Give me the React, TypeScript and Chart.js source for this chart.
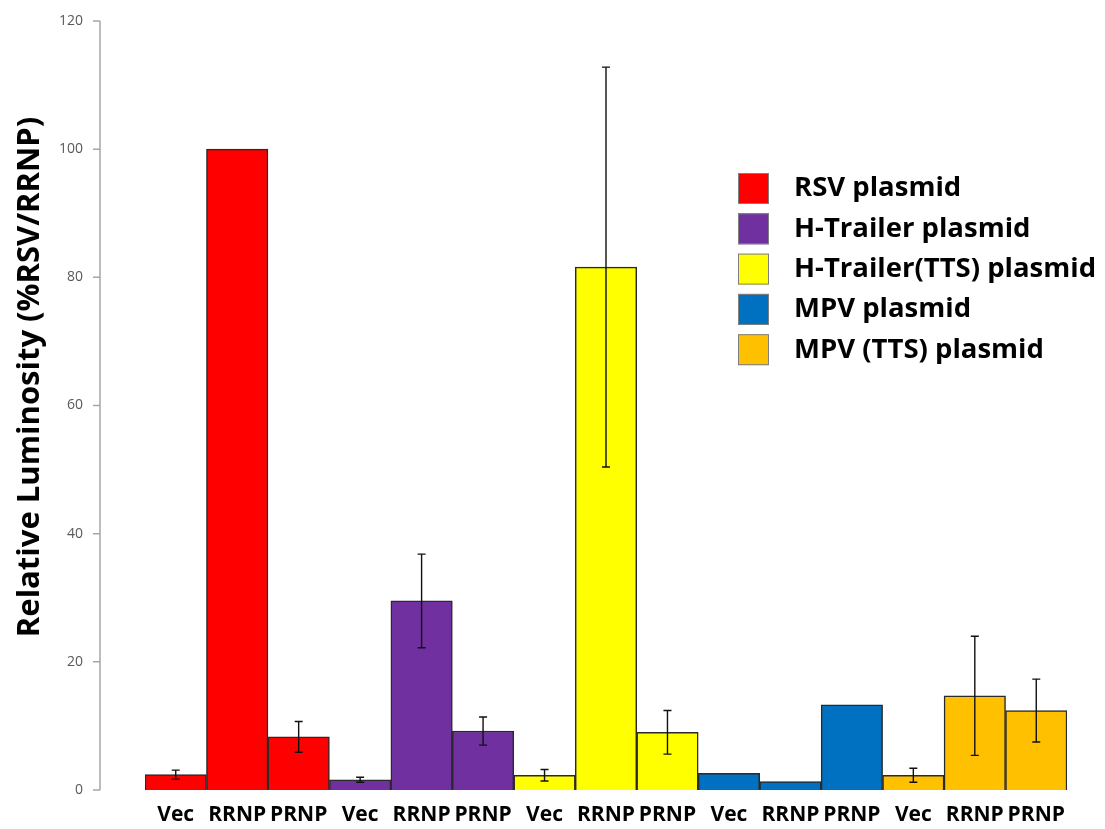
import React, { useEffect, useRef } from "react";
import { Chart, registerables } from "chart.js";

Chart.register(...registerables);

// ---- data ----
const categories = [
  "Vec", "RRNP", "PRNP",
  "Vec", "RRNP", "PRNP",
  "Vec", "RRNP", "PRNP",
  "Vec", "RRNP", "PRNP",
  "Vec", "RRNP", "PRNP",
];
const seriesNames = [
  "RSV plasmid",
  "H-Trailer plasmid",
  "H-Trailer(TTS) plasmid",
  "MPV plasmid",
  "MPV (TTS) plasmid",
];
const seriesColors = ["#FF0000", "#7030A0", "#FFFF00", "#0070C0", "#FFC000"];

const rsvValues = [2.4, 100, 8.3];
const rsvErrors = [0.7, null, 2.4];
const hTrailerValues = [1.6, 29.5, 9.2];
const hTrailerErrors = [0.4, 7.3, 2.2];
const hTrailerTtsValues = [2.3, 81.6, 9.0];
const hTrailerTtsErrors = [0.9, 31.2, 3.4];
const mpvValues = [2.6, 1.3, 13.3];
const mpvErrors = [null, null, null];
const mpvTtsValues = [2.3, 14.7, 12.4];
const mpvTtsErrors = [1.1, 9.3, 4.9];

const yTicks = [0, 20, 40, 60, 80, 100, 120];
const yTitle = "Relative Luminosity (%RSV/RRNP)";

const allValues = [rsvValues, hTrailerValues, hTrailerTtsValues, mpvValues, mpvTtsValues];
const allErrors = [rsvErrors, hTrailerErrors, hTrailerTtsErrors, mpvErrors, mpvTtsErrors];

const BOLD_FONT = "'Open Sans', 'DejaVu Sans', sans-serif";

const overlayPlugin = {
  id: "overlay",
  afterDatasetsDraw(chart: any) {
    const ctx = chart.ctx;
    const yScale = chart.scales.y;
    ctx.save();
    ctx.strokeStyle = "#111111";
    ctx.lineWidth = 1.4;
    chart.data.datasets.forEach((ds: any, di: number) => {
      const meta = chart.getDatasetMeta(di);
      const errs = ds.errors as (number | null)[];
      meta.data.forEach((el: any, i: number) => {
        const v = ds.data[i];
        const e = errs[i];
        if (v == null || e == null) return;
        const x = el.x;
        const yTop = yScale.getPixelForValue(v + e);
        const yBot = yScale.getPixelForValue(v - e);
        const cap = 4;
        ctx.beginPath();
        ctx.moveTo(x, yTop);
        ctx.lineTo(x, yBot);
        ctx.moveTo(x - cap, yTop);
        ctx.lineTo(x + cap, yTop);
        ctx.moveTo(x - cap, yBot);
        ctx.lineTo(x + cap, yBot);
        ctx.stroke();
      });
    });
    ctx.restore();
  },
  afterDraw(chart: any) {
    const ctx = chart.ctx;
    const yScale = chart.scales.y;
    const axisX = 100;
    ctx.save();
    // y axis line and ticks
    ctx.strokeStyle = "#A6A6A6";
    ctx.lineWidth = 1.5;
    ctx.beginPath();
    ctx.moveTo(axisX, yScale.getPixelForValue(yTicks[yTicks.length - 1]));
    ctx.lineTo(axisX, yScale.getPixelForValue(yTicks[0]));
    yTicks.forEach((t) => {
      const py = yScale.getPixelForValue(t);
      ctx.moveTo(axisX - 7, py);
      ctx.lineTo(axisX, py);
    });
    ctx.stroke();

    // y title
    ctx.save();
    ctx.translate(30, 377);
    ctx.rotate(-Math.PI / 2);
    ctx.fillStyle = "#000000";
    ctx.font = `bold 31px ${BOLD_FONT}`;
    ctx.textAlign = "center";
    ctx.textBaseline = "middle";
    ctx.fillText(yTitle, 0, 0);
    ctx.restore();

    // legend
    const boxX = 738;
    const boxSize = 31;
    const textX = 794;
    const firstY = 188.5;
    const rowH = 40.3;
    chart.data.datasets.forEach((ds: any, i: number) => {
      const cy = firstY + i * rowH;
      ctx.fillStyle = ds.backgroundColor;
      ctx.fillRect(boxX, cy - boxSize / 2, boxSize, boxSize);
      ctx.strokeStyle = "#7F7F7F";
      ctx.lineWidth = 1;
      ctx.strokeRect(boxX + 0.5, cy - boxSize / 2 + 0.5, boxSize - 1, boxSize - 1);
      ctx.fillStyle = "#000000";
      ctx.font = `bold 27.5px ${BOLD_FONT}`;
      ctx.textAlign = "left";
      ctx.textBaseline = "middle";
      ctx.fillText(ds.label, textX, cy);
    });
    ctx.restore();
  },
};

export default function App() {
  const canvasRef = useRef<HTMLCanvasElement | null>(null);

  useEffect(() => {
    const canvas = canvasRef.current;
    if (!canvas) return;
    const datasets = seriesNames.map((name, s) => ({
      label: name,
      data: categories.map((_, i) => (Math.floor(i / 3) === s ? allValues[s][i % 3] : null)),
      errors: categories.map((_, i) => (Math.floor(i / 3) === s ? allErrors[s][i % 3] : null)),
      backgroundColor: seriesColors[s],
      borderColor: "#2A2A2A",
      borderWidth: 1.5,
      grouped: false,
      categoryPercentage: 1,
      barPercentage: 1,
    }));

    const chart = new Chart(canvas, {
      type: "bar",
      data: { labels: categories, datasets: datasets as any },
      options: {
        animation: false,
        responsive: false,
        layout: { padding: { top: 21, right: 38, left: 0, bottom: 0 } },
        plugins: {
          legend: { display: false },
          tooltip: { enabled: false },
        },
        scales: {
          x: {
            offset: true,
            grid: { display: false, drawTicks: false },
            border: { display: false },
            ticks: {
              color: "#000000",
              font: { family: BOLD_FONT, size: 21, weight: "bold" },
              padding: 12,
              maxRotation: 0,
              autoSkip: false,
            },
            afterFit(scale: any) {
              scale.height = 39;
              scale.paddingLeft = 0;
              scale.paddingRight = 0;
            },
          },
          y: {
            min: 0,
            max: 120,
            grid: { display: false, drawTicks: false },
            border: { display: false },
            ticks: {
              stepSize: 20,
              color: "#595959",
              font: { family: "'Open Sans', sans-serif", size: 14 },
              padding: 62,
            },
            afterFit(scale: any) {
              scale.width = 145;
              scale.paddingTop = 0;
              scale.paddingBottom = 0;
            },
          },
        },
      },
      plugins: [overlayPlugin],
    });
    return () => chart.destroy();
  }, []);

  return (
    <div style={{ position: "absolute", left: 0, top: 0, width: 1105, height: 829, background: "#fff" }}>
      <canvas ref={canvasRef} width={1105} height={829} style={{ display: "block" }} />
    </div>
  );
}
